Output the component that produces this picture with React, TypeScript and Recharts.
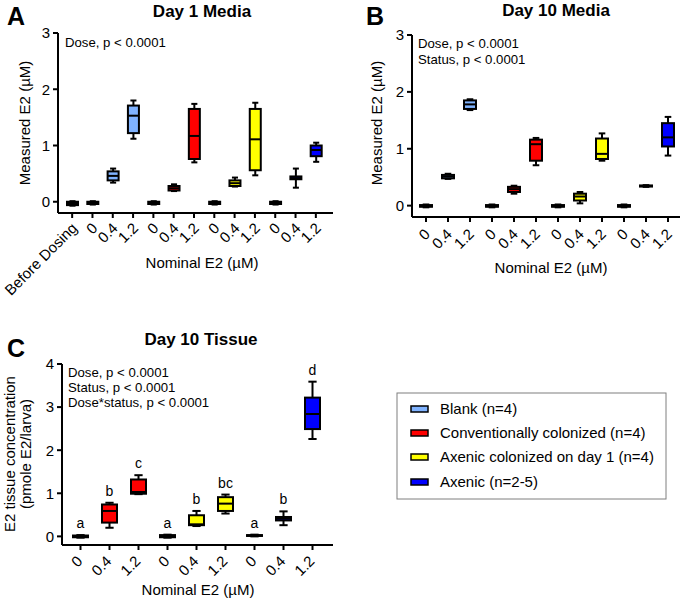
import type { ReactElement } from "react";
import { Bar, ComposedChart, XAxis, YAxis } from "recharts";

const FONT = "'Liberation Sans', Arial, sans-serif";

const groupColors = ["#80B3FF", "#FF0000", "#FFFF00", "#0000FF"];
const legendNames = [
  "Blank (n=4)",
  "Conventionally colonized (n=4)",
  "Axenic colonized on day 1 (n=4)",
  "Axenic (n=2-5)",
];

// Panel A: Day 1 Media (group -1 = before dosing, drawn black)
const aLabels = ["Before Dosing", "0", "0.4", "1.2", "0", "0.4", "1.2", "0", "0.4", "1.2", "0", "0.4", "1.2"];
const aGroups = [-1, 0, 0, 0, 1, 1, 1, 2, 2, 2, 3, 3, 3];
const aMin = [-0.07, -0.05, 0.34, 1.12, -0.05, 0.19, 0.7, -0.05, 0.27, 0.47, -0.05, 0.25, 0.71];
const aQ1 = [-0.06, -0.04, 0.38, 1.22, -0.04, 0.2, 0.76, -0.04, 0.28, 0.56, -0.04, 0.4, 0.81];
const aMed = [-0.03, -0.02, 0.46, 1.53, -0.02, 0.24, 1.17, -0.02, 0.33, 1.11, -0.02, 0.42, 0.92];
const aQ3 = [0.0, 0.0, 0.54, 1.71, 0.0, 0.28, 1.65, 0.0, 0.38, 1.65, 0.0, 0.45, 1.0];
const aMax = [0.01, 0.01, 0.59, 1.8, 0.01, 0.31, 1.74, 0.01, 0.43, 1.76, 0.01, 0.59, 1.05];

// Panel B: Day 10 Media
const bLabels = ["0", "0.4", "1.2", "0", "0.4", "1.2", "0", "0.4", "1.2", "0", "0.4", "1.2"];
const bGroups = [0, 0, 0, 1, 1, 1, 2, 2, 2, 3, 3, 3];
const bMin = [-0.03, 0.47, 1.68, -0.03, 0.21, 0.71, -0.03, 0.04, 0.79, -0.03, 0.33, 0.88];
const bQ1 = [-0.02, 0.48, 1.7, -0.02, 0.24, 0.79, -0.02, 0.09, 0.82, -0.02, 0.335, 1.04];
const bMed = [-0.01, 0.51, 1.78, -0.01, 0.29, 1.08, -0.01, 0.16, 0.91, -0.01, 0.345, 1.2];
const bQ3 = [0.01, 0.54, 1.85, 0.01, 0.33, 1.16, 0.01, 0.21, 1.18, 0.01, 0.355, 1.45];
const bMax = [0.02, 0.56, 1.87, 0.02, 0.35, 1.19, 0.02, 0.24, 1.27, 0.02, 0.36, 1.56];

// Panel C: Day 10 Tissue
const cLabels = ["0", "0.4", "1.2", "0", "0.4", "1.2", "0", "0.4", "1.2"];
const cGroups = [1, 1, 1, 2, 2, 2, 3, 3, 3];
const cMin = [-0.03, 0.2, 0.98, -0.03, 0.24, 0.53, 0.0, 0.26, 2.26];
const cQ1 = [-0.02, 0.32, 0.99, -0.02, 0.26, 0.59, 0.01, 0.37, 2.49];
const cMed = [0.0, 0.59, 1.03, 0.0, 0.28, 0.76, 0.02, 0.41, 2.84];
const cQ3 = [0.02, 0.74, 1.32, 0.03, 0.49, 0.91, 0.03, 0.45, 3.22];
const cMax = [0.03, 0.78, 1.42, 0.04, 0.59, 0.97, 0.04, 0.58, 3.59];
const cLetters = ["a", "b", "c", "a", "b", "bc", "a", "b", "d"];

type BoxRow = {
  id: string;
  color: string;
  min: number;
  q1: number;
  med: number;
  q3: number;
  max: number;
  range: [number, number];
  letter?: string;
};

function buildRows(
  prefix: string,
  groups: number[],
  min: number[],
  q1: number[],
  med: number[],
  q3: number[],
  max: number[],
  letters?: string[],
): BoxRow[] {
  return groups.map((g, i) => ({
    id: `${prefix}${i}`,
    color: g < 0 ? "#000000" : groupColors[g],
    min: min[i],
    q1: q1[i],
    med: med[i],
    q3: q3[i],
    max: max[i],
    range: [min[i], max[i]],
    letter: letters ? letters[i] : undefined,
  }));
}

const aRows = buildRows("a", aGroups, aMin, aQ1, aMed, aQ3, aMax);
const bRows = buildRows("b", bGroups, bMin, bQ1, bMed, bQ3, bMax);
const cRows = buildRows("c", cGroups, cMin, cQ1, cMed, cQ3, cMax, cLetters);

// draws box + whiskers inside the [min, max] rectangle that recharts hands us
function BoxShape(props: any): ReactElement {
  const { x, y, width, height, payload } = props;
  const row = payload as BoxRow;
  const k = height / (row.max - row.min);
  const py = (v: number) => y + (row.max - v) * k;
  const cx = x + width / 2;
  const cap = width * 0.55;
  const top = py(row.q3);
  const bottom = py(row.q1);
  return (
    <g stroke="#000" strokeWidth={2}>
      <line x1={cx} x2={cx} y1={py(row.max)} y2={top} />
      <line x1={cx} x2={cx} y1={bottom} y2={py(row.min)} />
      <line x1={cx - cap / 2} x2={cx + cap / 2} y1={py(row.max)} y2={py(row.max)} />
      <line x1={cx - cap / 2} x2={cx + cap / 2} y1={py(row.min)} y2={py(row.min)} />
      <rect x={x} y={top} width={width} height={Math.max(bottom - top, 0.5)} fill={row.color} />
      <line x1={x} x2={x + width} y1={py(row.med)} y2={py(row.med)} />
      {row.letter ? (
        <text
          x={cx}
          y={py(row.max) - 7}
          textAnchor="middle"
          stroke="none"
          fill="#000"
          fontSize={14}
          fontFamily={FONT}
        >
          {row.letter}
        </text>
      ) : null}
    </g>
  );
}

function RotTick(props: any): ReactElement {
  const { x, y, index, labels, dx, dy } = props;
  const ax = x + dx;
  const ay = y + dy;
  return (
    <text
      x={ax}
      y={ay}
      transform={`rotate(-45 ${ax} ${ay})`}
      textAnchor="end"
      fontSize={15}
      fontFamily={FONT}
      fill="#000"
    >
      {labels[index]}
    </text>
  );
}

const axisStroke = { stroke: "#000", strokeWidth: 2 };

type PanelCfg = {
  rows: BoxRow[];
  labels: string[];
  width: number;
  height: number;
  margin: { top: number; right: number; bottom: number; left: number };
  domain: [number, number];
  ticks: number[];
  padding: { left: number; right: number };
  barSize: number;
  xHeight: number;
  dx: number;
  dy: number;
};

function BoxPanel({ cfg }: { cfg: PanelCfg }): ReactElement {
  return (
    <ComposedChart width={cfg.width} height={cfg.height} data={cfg.rows} margin={cfg.margin}>
      <XAxis
        dataKey="id"
        type="category"
        interval={0}
        padding={cfg.padding}
        height={cfg.xHeight}
        tickSize={5}
        tickMargin={0}
        axisLine={axisStroke}
        tickLine={axisStroke}
        tick={(p: any) => <RotTick {...p} labels={cfg.labels} dx={cfg.dx} dy={cfg.dy} />}
      />
      <YAxis
        type="number"
        domain={cfg.domain}
        ticks={cfg.ticks}
        allowDataOverflow
        width={40}
        tickSize={5}
        tickMargin={3}
        axisLine={axisStroke}
        tickLine={axisStroke}
        tick={{ fill: "#000", fontSize: 15, fontFamily: FONT }}
      />
      <Bar dataKey="range" barSize={cfg.barSize} isAnimationActive={false} shape={BoxShape} />
    </ComposedChart>
  );
}

const panelA: PanelCfg = {
  rows: aRows,
  labels: aLabels,
  width: 340,
  height: 300,
  margin: { top: 33, right: 7, bottom: 27, left: 18 },
  domain: [-0.2, 3],
  ticks: [0, 1, 2, 3],
  padding: { left: 4, right: 7 },
  barSize: 11,
  xHeight: 60,
  dx: 6,
  dy: 11,
};

const panelB: PanelCfg = {
  rows: bRows,
  labels: bLabels,
  width: 345,
  height: 300,
  margin: { top: 35, right: 5, bottom: 23, left: 32 },
  domain: [-0.2, 3],
  ticks: [0, 1, 2, 3],
  padding: { left: 3, right: 1 },
  barSize: 12,
  xHeight: 60,
  dx: 5,
  dy: 13,
};

const panelC: PanelCfg = {
  rows: cRows,
  labels: cLabels,
  width: 340,
  height: 303,
  margin: { top: 64, right: 7, bottom: 13, left: 22 },
  domain: [-0.2, 4],
  ticks: [0, 1, 2, 3, 4],
  padding: { left: 4, right: 6 },
  barSize: 15,
  xHeight: 45,
  dx: 3,
  dy: 12,
};

const legendY = [409, 433, 457, 482];

function Overlay(): ReactElement {
  const t = { fontFamily: FONT, fill: "#000" };
  return (
    <svg
      width={685}
      height={603}
      style={{ position: "absolute", left: 0, top: 0, pointerEvents: "none" }}
    >
      {/* panel letters and titles */}
      <text x={7} y={25} fontSize={25} fontWeight="bold" {...t}>A</text>
      <text x={202} y={17} fontSize={17} fontWeight="bold" textAnchor="middle" {...t}>Day 1 Media</text>
      <text x={366} y={25} fontSize={25} fontWeight="bold" {...t}>B</text>
      <text x={556} y={16} fontSize={17} fontWeight="bold" textAnchor="middle" {...t}>Day 10 Media</text>
      <text x={7} y={357} fontSize={25} fontWeight="bold" {...t}>C</text>
      <text x={201} y={345} fontSize={17} fontWeight="bold" textAnchor="middle" {...t}>Day 10 Tissue</text>

      {/* axis titles */}
      <text x={30} y={123} fontSize={15} textAnchor="middle" transform="rotate(-90 30 123)" {...t}>Measured E2 (µM)</text>
      <text x={382} y={123} fontSize={15} textAnchor="middle" transform="rotate(-90 382 123)" {...t}>Measured E2 (µM)</text>
      <text x={15} y={454} fontSize={15} textAnchor="middle" transform="rotate(-90 15 454)" {...t}>E2 tissue concentration</text>
      <text x={31} y={454} fontSize={15} textAnchor="middle" transform="rotate(-90 31 454)" {...t}>(pmole E2/larva)</text>
      <text x={202} y={268} fontSize={15} textAnchor="middle" {...t}>Nominal E2 (µM)</text>
      <text x={551} y={273} fontSize={15} textAnchor="middle" {...t}>Nominal E2 (µM)</text>
      <text x={198} y={595} fontSize={15} textAnchor="middle" {...t}>Nominal E2 (µM)</text>

      {/* statistics */}
      <text x={65} y={47} fontSize={13.2} {...t}>Dose, p &lt; 0.0001</text>
      <text x={418} y={48} fontSize={13.2} {...t}>Dose, p &lt; 0.0001</text>
      <text x={418} y={64} fontSize={13.2} {...t}>Status, p &lt; 0.0001</text>
      <text x={68} y={377} fontSize={13.2} {...t}>Dose, p &lt; 0.0001</text>
      <text x={68} y={392} fontSize={13.2} {...t}>Status, p &lt; 0.0001</text>
      <text x={68} y={407} fontSize={13.2} {...t}>Dose*status, p &lt; 0.0001</text>

      {/* legend */}
      <rect x={397} y={393} width={269} height={106} fill="none" stroke="#7f7f7f" strokeWidth={1} />
      {legendNames.map((name, i) => (
        <g key={name}>
          <rect x={411} y={legendY[i] - 3} width={17} height={6} fill={groupColors[i]} stroke="#000" strokeWidth={1.5} />
          <text x={440} y={legendY[i] + 5} fontSize={15} {...t}>{name}</text>
        </g>
      ))}
    </svg>
  );
}

export default function App(): ReactElement {
  return (
    <div
      style={{
        position: "absolute",
        left: 0,
        top: 0,
        width: 685,
        height: 603,
        background: "#fff",
        fontFamily: FONT,
      }}
    >
      <div style={{ position: "absolute", left: 0, top: 0 }}>
        <BoxPanel cfg={panelA} />
      </div>
      <div style={{ position: "absolute", left: 340, top: 0 }}>
        <BoxPanel cfg={panelB} />
      </div>
      <div style={{ position: "absolute", left: 0, top: 300 }}>
        <BoxPanel cfg={panelC} />
      </div>
      <Overlay />
    </div>
  );
}
